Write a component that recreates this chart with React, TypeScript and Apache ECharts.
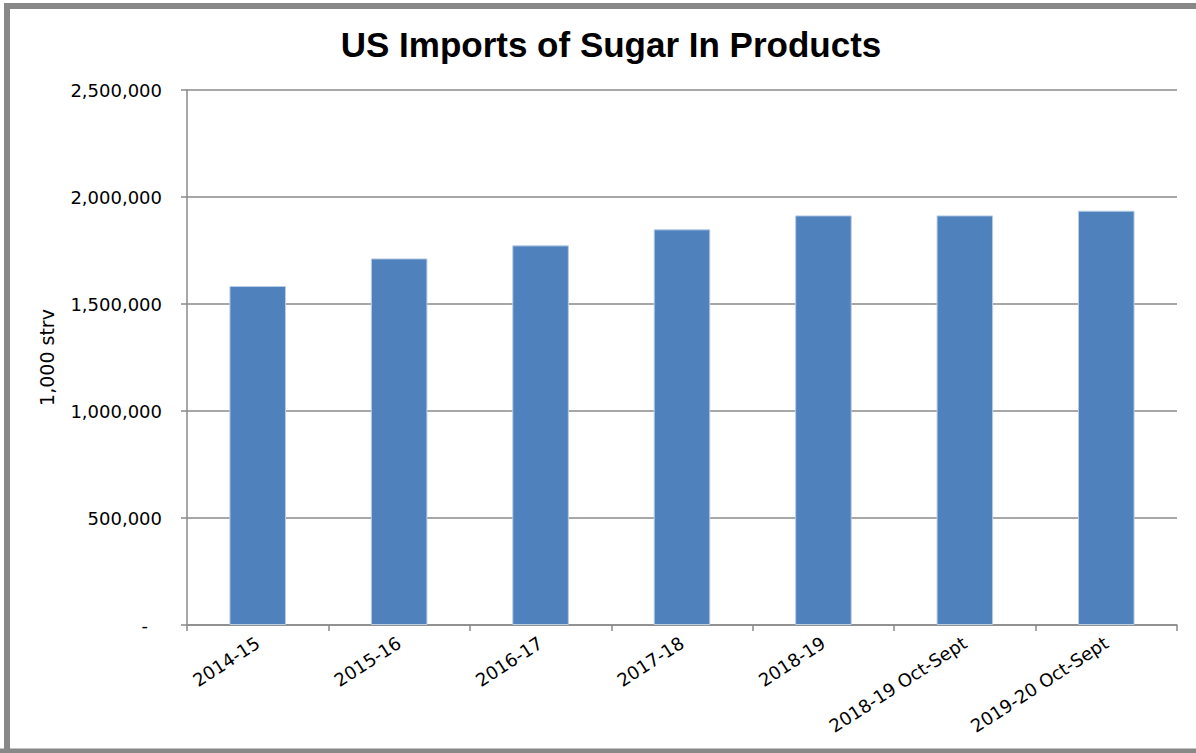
import React, { useEffect, useRef } from "react";
import * as echarts from "echarts";

const categories = [
  "2014-15",
  "2015-16",
  "2016-17",
  "2017-18",
  "2018-19",
  "2018-19 Oct-Sept",
  "2019-20 Oct-Sept",
];
const imports = [1584000, 1713000, 1774000, 1849000, 1914000, 1914000, 1936000];
const titleText = "US Imports of Sugar In Products";
const yAxisName = "1,000 strv";

function fmt(v: number): string {
  if (v === 0) return "{z|-}";
  return v.toLocaleString("en-US");
}

export default function App() {
  const ref = useRef<HTMLDivElement>(null);
  useEffect(() => {
    if (!ref.current) return;
    const chart = echarts.init(ref.current, null, { renderer: "svg" });
    const gray = "#8a8a8a";
    chart.setOption({
      animation: false,
      backgroundColor: "#ffffff",
      title: {
        text: titleText,
        left: 606,
        top: 22,
        textAlign: "center",
        textStyle: {
          fontFamily: "Liberation Sans",
          fontWeight: "bold",
          fontSize: 35,
          color: "#000",
        },
      },
      graphic: [
        {
          type: "polyline",
          shape: { points: [[7, 760], [7, 6], [1200, 6]] },
          style: { stroke: "#888888", lineWidth: 6, fill: "none" },
          z: 100,
        },
        {
          type: "line",
          shape: { x1: 0, y1: 751, x2: 1196, y2: 751 },
          style: { stroke: "#888888", lineWidth: 5 },
          z: 100,
        },
      ],
      grid: { left: 187, right: 19, top: 90, bottom: 128, containLabel: false },
      xAxis: {
        type: "category",
        data: categories,
        boundaryGap: true,
        axisLine: { lineStyle: { color: gray, width: 1.5 } },
        axisTick: { show: true, alignWithLabel: false, length: 6, lineStyle: { color: gray, width: 1.5 } },
        axisLabel: {
          rotate: 33,
          margin: 16,
          interval: 0,
          fontFamily: "DejaVu Sans",
          fontSize: 18,
          color: "#000",
        },
      },
      yAxis: {
        type: "value",
        min: 0,
        max: 2500000,
        interval: 500000,
        name: yAxisName,
        nameLocation: "middle",
        nameGap: 131,
        nameTextStyle: { fontFamily: "DejaVu Sans", fontSize: 19, color: "#000" },
        axisLine: { show: true, lineStyle: { color: gray, width: 1.5 } },
        axisTick: { show: true, length: 6, lineStyle: { color: gray, width: 1.5 } },
        splitLine: { show: true, lineStyle: { color: gray, width: 1.5 } },
        axisLabel: {
          margin: 25,
          fontFamily: "DejaVu Sans",
          fontSize: 18,
          color: "#000",
          formatter: fmt,
          rich: {
            z: { fontFamily: "DejaVu Sans", fontSize: 18, color: "#000", padding: [0, 14, 0, 0] },
          },
        },
      },
      series: [
        {
          type: "bar",
          data: imports,
          barCategoryGap: "60%",
          itemStyle: { color: "#4f81bd", borderColor: "#b9cde5", borderWidth: 1 },
        },
      ],
    });
    return () => chart.dispose();
  }, []);
  return (
    <div
      ref={ref}
      style={{ position: "fixed", left: 0, top: 0, width: 1196, height: 753 }}
    />
  );
}
